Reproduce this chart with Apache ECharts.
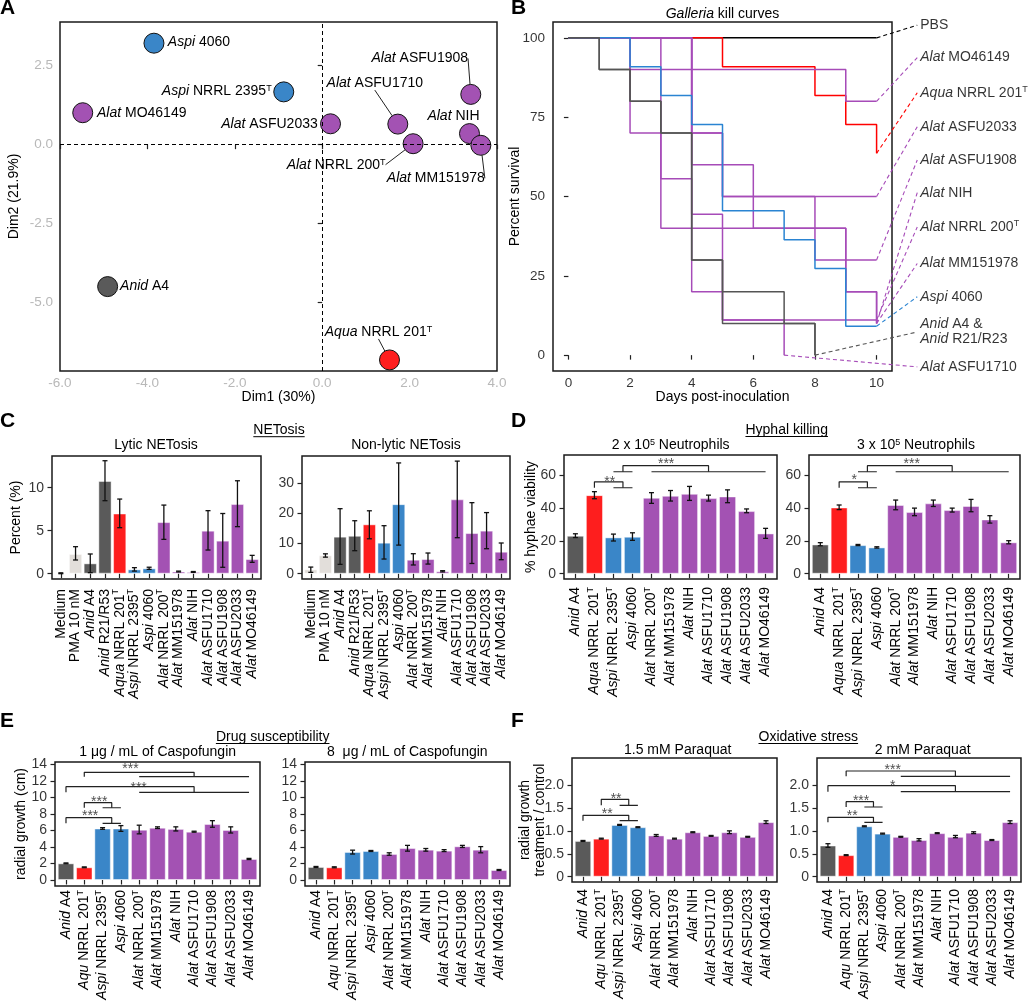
<!DOCTYPE html>
<html><head><meta charset="utf-8">
<script src="https://cdn.jsdelivr.net/npm/echarts@6/dist/echarts.min.js"></script>
<style>html,body{margin:0;padding:0;background:#fff}#c{width:1028px;height:1003px}</style>
</head><body><div id="c"></div>
<script>
const FONT = "'Liberation Sans', Arial, sans-serif";

// ===== Panel A: PCA =====
const pcaNames = ['Aspi 4060','Aspi NRRL 2395T','Alat MO46149','Alat ASFU2033','Alat ASFU1710','Alat ASFU1908','Alat NIH','Alat NRRL 200T','Alat MM151978','Anid A4','Aqua NRRL 201T'];
const pcaDim1 = [-3.85,-0.88,-5.48,0.19,1.73,3.40,3.37,2.08,3.63,-4.91,1.54];
const pcaDim2 = [3.21,1.67,1.01,0.66,0.65,1.59,0.35,0.03,-0.02,-4.49,-6.81];
const pcaXTicks = [-6,-4,-2,0,2,4];
const pcaYTicks = [-5,-2.5,0,2.5];

// ===== Panel B: Galleria kill curves =====
const killDays = [0,1,2,3,4,5,6,7,8,9,10];
const survPBS = [100,100,100,100,100,100,100,100,100,100,100];
const survAqua = [100,100,100,100,100,90.9,90.9,90.9,81.8,72.7,63.6];
const survMO46149 = [100,100,90,90,90,90,90,90,90,80,80];
const survASFU2033 = [100,100,100,100,70,50,50,50,50,50,50];
const survASFU1908 = [100,100,100,100,70,50,50,50,30,30,30];
const survNIH = [100,100,70,40,40,40,40,40,40,20,10];
const survNRRL200 = [100,100,100,100,20,11.1,11.1,11.1,11.1,11.1,11.1];
const survMM151978 = [100,100,100,100,60,60,40,40,40,20,10];
const survASFU1710 = [100,100,100,55.6,44.4,11.1,11.1,0];
const survAspi4060 = [100,100,90.9,81.8,72.7,45.5,45.5,36.4,27.3,9.1,9.1];
const survAnidR21 = [100,90,80,70,30,10,10,10,0];
const survAnidA4 = [100,90,80,70,30,20,20,10,0];
const killXTicks = [0,2,4,6,8,10];
const killYTicks = [0,25,50,75,100];

// ===== Panel C: NETosis =====
const netCats = ['Medium','PMA 10 nM','Anid A4','Anid R21/R53','Aqua NRRL 201T','Aspi NRRL 2395T','Aspi 4060','Alat NRRL 200T','Alat MM151978','Alat NIH','Alat ASFU1710','Alat ASFU1908','Alat ASFU2033','Alat MO46149'];
const lyticMean = [0.05,2.29,1.2,10.78,7.0,0.5,0.62,6.0,0.25,0.2,5.0,3.84,8.1,1.7];
const lyticLo   = [0.0,1.59,0.12,8.49,5.35,0.3,0.5,3.99,0.2,0.15,2.75,0.74,5.47,1.32];
const lyticHi   = [0.1,3.14,2.29,13.14,8.68,0.7,0.75,7.98,0.3,0.25,7.33,7.0,10.81,2.13];
const nonlyticMean = [1.44,6.1,12.3,12.6,16.4,10.3,23.1,4.65,4.87,0.8,24.7,13.5,14.3,7.3];
const nonlyticLo   = [0.44,5.5,3.1,7.64,11.6,4.87,9.5,2.9,3.2,0.6,11.96,3.4,8.3,4.65];
const nonlyticHi   = [2.2,6.6,21.6,17.6,20.9,15.95,36.8,6.64,6.87,1.0,37.4,23.6,20.3,10.2];
const lyticTicks = [0,5,10];
const nonlyticTicks = [0,10,20,30];

// ===== Panel D: Hyphal killing =====
const strainCats = ['Anid A4','Aqua NRRL 201T','Aspi NRRL 2395T','Aspi 4060','Alat NRRL 200T','Alat MM151978','Alat NIH','Alat ASFU1710','Alat ASFU1908','Alat ASFU2033','Alat MO46149'];
const kill2Mean = [23.1,47.8,22.1,22.5,46.2,47.4,48.6,46.0,47.0,38.1,24.5];
const kill2Lo   = [22.0,45.6,19.9,20.3,42.8,44.2,44.6,44.2,43.2,37.1,21.5];
const kill2Hi   = [24.3,49.9,24.1,24.9,49.3,50.6,53.1,47.8,51.0,39.4,27.6];
const kill3Mean = [17.8,40.3,17.4,16.0,41.8,37.5,42.8,38.7,41.2,33.0,19.1];
const kill3Lo   = [17.0,39.0,17.1,15.6,38.9,35.3,40.9,37.5,37.7,30.8,18.2];
const kill3Hi   = [18.9,41.8,17.8,16.4,44.8,39.9,44.8,39.9,45.2,35.3,20.1];
const killTicks = [0,20,40,60];

// ===== Panel E: Drug susceptibility =====
const strainCatsAqu = ['Anid A4','Aqu NRRL 201T','Aspi NRRL 2395T','Aspi 4060','Alat NRRL 200T','Alat MM151978','Alat NIH','Alat ASFU1710','Alat ASFU1908','Alat ASFU2033','Alat MO46149'];
const caspo1Mean = [2.02,1.54,6.25,6.25,6.1,6.35,6.2,5.86,6.8,6.07,2.55];
const caspo1Lo   = [1.97,1.49,6.15,5.9,5.6,6.25,5.95,5.8,6.4,5.7,2.48];
const caspo1Hi   = [2.07,1.59,6.35,6.6,6.65,6.45,6.45,5.92,7.2,6.45,2.62];
const caspo8Mean = [1.58,1.54,3.4,3.52,3.16,3.88,3.68,3.56,4.09,3.68,1.21];
const caspo8Lo   = [1.52,1.48,3.15,3.46,3.0,3.5,3.5,3.45,3.95,3.3,1.15];
const caspo8Hi   = [1.64,1.6,3.62,3.58,3.3,4.2,3.82,3.68,4.2,4.05,1.27];
const caspoTicks = [0,2,4,6,8,10,12,14];

// ===== Panel F: Oxidative stress =====
const para15Mean = [0.78,0.83,1.13,1.08,0.9,0.83,0.97,0.89,0.97,0.87,1.19];
const para15Lo   = [0.77,0.82,1.12,1.07,0.88,0.82,0.96,0.88,0.94,0.86,1.16];
const para15Hi   = [0.79,0.84,1.14,1.09,0.92,0.84,0.98,0.9,1.0,0.88,1.22];
const para2Mean = [0.68,0.47,1.1,0.94,0.87,0.8,0.95,0.87,0.96,0.8,1.19];
const para2Lo   = [0.64,0.46,1.09,0.93,0.86,0.78,0.94,0.85,0.94,0.79,1.16];
const para2Hi   = [0.72,0.48,1.11,0.95,0.88,0.83,0.96,0.9,0.98,0.81,1.22];
const paraTicks = [0,0.5,1,1.5,2];

// ===== Significance annotations (category units / axis units) =====
const kill2Sig = [
  {x1:2, x2:3.5, top:55.9, low:52.3, subs:[[3,4]], text:'**', tx:2.8, ty:57.6},
  {x1:3.5, x2:8, top:65.7, low:62.0, subs:[[3,4],[5,11]], text:'***', tx:5.77, ty:68.6}
];
const kill3Sig = [
  {x1:2, x2:3.5, top:55.9, low:52.3, subs:[[3,4]], text:'*', tx:2.8, ty:58.5},
  {x1:3.5, x2:8, top:65.7, low:62.0, subs:[[3,4],[5,11]], text:'***', tx:5.85, ty:68.6}
];
const caspo1Sig = [
  {x1:2, x2:8, top:13.07, low:12.54, subs:[[5,11]], text:'***', tx:4.52, ty:13.83},
  {x1:1, x2:8, top:11.32, low:10.64, subs:[[5,11]], text:'***', tx:4.97, ty:11.55},
  {x1:2, x2:3.5, top:9.38, low:8.77, subs:[[3,4]], text:'***', tx:2.82, ty:9.81},
  {x1:1, x2:3.5, top:7.56, low:6.88, subs:[[3,4]], text:'***', tx:2.32, ty:8.1}
];
const para15Sig = [
  {x1:2, x2:3.5, top:1.689, low:1.558, subs:[[3,4]], text:'**', tx:2.81, ty:1.765},
  {x1:1, x2:3.5, top:1.34, low:1.222, subs:[[3,4]], text:'**', tx:2.32, ty:1.427}
];
const para2Sig = [
  {x1:2, x2:8, top:2.306, low:2.19, subs:[[5,11]], text:'***', tx:4.56, ty:2.398},
  {x1:1, x2:8, top:1.986, low:1.855, subs:[[5,11]], text:'*', tx:4.56, ty:2.05},
  {x1:2, x2:3.5, top:1.636, low:1.521, subs:[[3,4]], text:'***', tx:2.82, ty:1.724},
  {x1:1, x2:3.5, top:1.296, low:1.187, subs:[[3,4]], text:'**', tx:2.33, ty:1.394}
];

// ===== Layout (label placement) =====
const pcaLabelShift = [[45,-1],[-67,-1],[59,0],[-61,0],[-23,-41],[-51,-36],[-16,-17],[-77,21],[-45,33],[37,0],[-11,-28]];
const pcaLeader = [false,false,false,false,true,true,false,true,true,false,true];
const killLabelX = 11.32;
const killLabelY = [104,93.8,82.7,72,61.5,51.2,40.4,28.9,18.4,7.3,-3.7];

// ===== Styling =====
const GRAY = '#5a5a5a', RED = '#fe1e1e', BLUE = '#3a86c8', PURPLE = '#a352b3', LIGHT = '#e2deda';
const LRED = '#ff0000', LBLUE = '#2a84d2', LPURPLE = '#a64bb8', LGRAY = '#555555';
function colorFor(n) {
  if (/^Anid/.test(n)) return GRAY;
  if (/^Aqu/.test(n)) return RED;
  if (/^Aspi/.test(n)) return BLUE;
  if (/^Alat/.test(n)) return PURPLE;
  return LIGHT;
}
function richStyles(fs, col) {
  col = col || '#000';
  return {
    i: {fontStyle:'italic', fontSize:fs, fontFamily:FONT, color:col},
    n: {fontSize:fs, fontFamily:FONT, color:col},
    sup: {fontSize:Math.round(fs*0.62), fontFamily:FONT, color:col, verticalAlign:'top', lineHeight:fs*0.75}
  };
}
function fmtName(s) {
  return s.split('\n').map(line => {
    let pre = '', rest = line, sup = '';
    const m = line.match(/^(Anid|Aqua|Aqu|Aspi|Alat)( .*)$/);
    if (m) { pre = '{i|' + m[1] + '}'; rest = m[2]; }
    const t = rest.match(/^(.*\d)T$/);
    if (t) { rest = t[1]; sup = '{sup|T}'; }
    return pre + '{n|' + rest + '}' + sup;
  }).join('\n');
}
function namePieces(s) {
  const out = [];
  let rest = s, sup = false;
  const m = s.match(/^(Anid|Aqua|Aqu|Aspi|Alat)( .*)$/);
  if (m) { out.push({t:m[1], it:true}); rest = m[2]; }
  const t = rest.match(/^(.*\d)T$/);
  if (t) { rest = t[1]; sup = true; }
  out.push({t:rest});
  if (sup) out.push({t:'T', sup:true});
  return out;
}

const grids = [
  {left:60, top:22, width:437, height:349},
  {left:553, top:22, width:339, height:349},
  {left:52, top:456, width:209, height:123},
  {left:302, top:456, width:208, height:123},
  {left:564, top:455, width:213, height:124},
  {left:809, top:455, width:211, height:124},
  {left:55, top:762, width:205, height:124},
  {left:305, top:762, width:205, height:124},
  {left:572, top:758, width:205, height:124},
  {left:817, top:758, width:204, height:124}
];
const gridOpts = grids.map(g => Object.assign({show:true, borderColor:'#1a1a1a', borderWidth:1.5, backgroundColor:'#fff', containLabel:false, outerBoundsMode:'none'}, g));

const xAxes = [], yAxes = [], series = [];
const tickStyle = {show:true, inside:false, length:4.5, lineStyle:{color:'#222', width:1.2}};
const nameStyle = {fontSize:14, fontFamily:FONT, color:'#000', lineHeight:15};

function tickLabels(xi, yi, pts, lab, fs, col) {
  series.push({type:'scatter', xAxisIndex:xi, yAxisIndex:yi, symbolSize:0, clip:false, silent:true, z:6,
    data: pts, emphasis:{disabled:true},
    label:Object.assign({show:true, color:col || '#000', lineHeight:15, rich:richStyles(fs || 14, col),
      formatter:p=>'{n|' + p.name + '}'}, lab)});
}

// ---- Panel A ----
xAxes.push({gridIndex:0, type:'value', min:-6, max:4, splitLine:{show:false}, axisLine:{show:false},
  axisTick:Object.assign({}, tickStyle, {customValues:pcaXTicks}), axisLabel:{show:false},
  name:'Dim1 (30%)', nameLocation:'middle', nameGap:19, nameTextStyle:nameStyle});
yAxes.push({gridIndex:0, type:'value', min:-7.16, max:3.88, splitLine:{show:false}, axisLine:{show:false},
  axisTick:Object.assign({}, tickStyle, {customValues:pcaYTicks}), axisLabel:{show:false},
  name:'Dim2 (21.9%)', nameLocation:'middle', nameGap:38, nameTextStyle:nameStyle});
tickLabels(0, 0, pcaXTicks.map(v=>({value:[v,-7.16], name:v.toFixed(1)})), {position:'bottom', distance:5}, 13.5, '#a6a6a6');
tickLabels(0, 0, pcaYTicks.map(v=>({value:[-6,v], name:v.toFixed(1)})), {position:'left', distance:7}, 13.5, '#a6a6a6');
series.push({
  type:'scatter', xAxisIndex:0, yAxisIndex:0, symbolSize:20, z:4,
  data: pcaNames.map((n,i)=>({value:[pcaDim1[i], pcaDim2[i]], name:n, itemStyle:{color:colorFor(n)}, labelLine:{show:pcaLeader[i]}})),
  itemStyle:{borderColor:'#111', borderWidth:1, opacity:1},
  label:{show:true, position:'inside', color:'#000', formatter:p=>fmtName(p.name), rich:richStyles(14)},
  labelLine:{show:false, lineStyle:{color:'#222', width:1}},
  labelLayout: p => ({dx:pcaLabelShift[p.dataIndex][0], dy:pcaLabelShift[p.dataIndex][1]}),
  emphasis:{disabled:true},
  markLine:{silent:true, symbol:'none', animation:false, label:{show:false},
    lineStyle:{type:[4,3], color:'#000', width:1}, data:[{xAxis:0},{yAxis:0}]}
});

// ---- Panel B ----
xAxes.push({gridIndex:1, type:'value', min:-0.5, max:10.5, splitLine:{show:false}, axisLine:{show:false},
  axisTick:Object.assign({}, tickStyle, {customValues:killXTicks}), axisLabel:{show:false},
  name:'Days post-inoculation', nameLocation:'middle', nameGap:19, nameTextStyle:nameStyle});
yAxes.push({gridIndex:1, type:'value', min:-5, max:105, splitLine:{show:false}, axisLine:{show:false},
  axisTick:Object.assign({}, tickStyle, {customValues:killYTicks}), axisLabel:{show:false},
  name:'Percent survival', nameLocation:'middle', nameGap:30, nameTextStyle:nameStyle});
tickLabels(1, 1, killXTicks.map(v=>({value:[v,-5], name:String(v)})), {position:'bottom', distance:5}, 13.5);
tickLabels(1, 1, killYTicks.map(v=>({value:[-0.5,v], name:String(v)})), {position:'left', distance:8}, 13.5);
const killCurves = [
  ['PBS', survPBS, '#000000'],
  ['Aqua NRRL 201T', survAqua, LRED],
  ['Alat MO46149', survMO46149, LPURPLE],
  ['Alat ASFU2033', survASFU2033, LPURPLE],
  ['Alat ASFU1908', survASFU1908, LPURPLE],
  ['Alat NIH', survNIH, LPURPLE],
  ['Alat NRRL 200T', survNRRL200, LPURPLE],
  ['Alat MM151978', survMM151978, LPURPLE],
  ['Alat ASFU1710', survASFU1710, LPURPLE],
  ['Aspi 4060', survAspi4060, LBLUE],
  ['Anid R21/R23', survAnidR21, LGRAY],
  ['Anid A4', survAnidA4, LGRAY]
];
killCurves.forEach(([nm, s, col]) => series.push({
  type:'line', name:nm, xAxisIndex:1, yAxisIndex:1, step:'end', symbol:'none', silent:true,
  data: s.map((v,i)=>[killDays[i], v]), lineStyle:{color:col, width:1.5}
}));
const killLegend = [
  ['PBS', survPBS, '#000000'],
  ['Alat MO46149', survMO46149, LPURPLE],
  ['Aqua NRRL 201T', survAqua, LRED],
  ['Alat ASFU2033', survASFU2033, LPURPLE],
  ['Alat ASFU1908', survASFU1908, LPURPLE],
  ['Alat NIH', survNIH, LPURPLE],
  ['Alat NRRL 200T', survNRRL200, LPURPLE],
  ['Alat MM151978', survMM151978, LPURPLE],
  ['Aspi 4060', survAspi4060, LBLUE],
  ['Anid A4 &\nAnid R21/R23', survAnidA4, LGRAY],
  ['Alat ASFU1710', survASFU1710, LPURPLE]
];
killLegend.forEach(([nm, s, col], k) => {
  const last = s.length - 1;
  series.push({type:'custom', xAxisIndex:1, yAxisIndex:1, silent:true, clip:false, z:3,
    data:[[killDays[last], s[last], killLabelX, killLabelY[k]]], encode:{x:[0,2], y:[1,3]},
    renderItem:(p, api) => {
      const a = api.coord([api.value(0), api.value(1)]), b = api.coord([api.value(2), api.value(3)]);
      return {type:'line', shape:{x1:a[0], y1:a[1], x2:b[0], y2:b[1]}, style:{stroke:col, lineWidth:1.1, lineDash:[4,3]}};
    }});
});
series.push({type:'scatter', xAxisIndex:1, yAxisIndex:1, symbolSize:0, clip:false, silent:true,
  data: killLegend.map(([nm], k) => ({value:[killLabelX, killLabelY[k]], name:nm})),
  label:{show:true, position:'right', distance:3, color:'#000', formatter:p=>fmtName(p.name), rich:richStyles(14), lineHeight:15}
});

// ---- Bar panels ----
function errRender(params, api) {
  const x = api.value(0);
  const a = api.coord([x, api.value(1)]), b = api.coord([x, api.value(2)]);
  const hw = 2.5, st = {stroke:'#111', lineWidth:1.3};
  return {type:'group', children:[
    {type:'line', shape:{x1:a[0], y1:a[1], x2:b[0], y2:b[1]}, style:st},
    {type:'line', shape:{x1:a[0]-hw, y1:a[1], x2:a[0]+hw, y2:a[1]}, style:st},
    {type:'line', shape:{x1:b[0]-hw, y1:b[1], x2:b[0]+hw, y2:b[1]}, style:st}
  ]};
}
const catLabelJobs = [];
function barPanel(gi, cats, mean, lo, hi, yr, yticks, yfmt, yname, yGap, lblMargin, sig) {
  const n = cats.length, idx = cats.map((_, i) => i + 1), g = grids[gi];
  const xi = xAxes.length, yi = yAxes.length;
  xAxes.push({gridIndex:gi, type:'value', min:0.4, max:n+0.6, splitLine:{show:false}, axisLine:{show:false},
    axisTick:Object.assign({}, tickStyle, {customValues:idx}), axisLabel:{show:false}});
  yAxes.push({gridIndex:gi, type:'value', min:yr[0], max:yr[1], splitLine:{show:false}, axisLine:{show:false},
    axisTick:Object.assign({}, tickStyle, {customValues:yticks}), axisLabel:{show:false},
    name:yname, nameLocation:'middle', nameGap:yGap, nameTextStyle:nameStyle});
  catLabelJobs.push({xi, yi, cats, y0:yr[0], margin:lblMargin});
  tickLabels(xi, yi, yticks.map(v=>({value:[0.4, v], name:yfmt(v)})), {position:'left', distance:8});
  series.push({type:'bar', xAxisIndex:xi, yAxisIndex:yi, barWidth:0.9*g.width/(n+0.2), silent:true,
    data: cats.map((c,i)=>({value:[i+1, mean[i]], itemStyle:{color:colorFor(c)}})),
    itemStyle:{borderColor:'rgba(255,255,255,0.45)', borderWidth:1}});
  series.push({type:'custom', xAxisIndex:xi, yAxisIndex:yi, renderItem:errRender, silent:true, z:5,
    data: cats.map((c,i)=>[i+1, lo[i], hi[i]]), encode:{x:0, y:[1,2]}});
  if (sig) {
    const seg = pts => series.push({type:'line', xAxisIndex:xi, yAxisIndex:yi, data:pts, symbol:'none', silent:true, z:4,
      lineStyle:{color:'#222', width:1.2}});
    sig.forEach(s => {
      seg([[s.x1,s.low],[s.x1,s.top],[s.x2,s.top],[s.x2,s.low]]);
      s.subs.forEach(([a,b]) => seg([[a,s.low],[b,s.low]]));
    });
    tickLabels(xi, yi, sig.map(s=>({value:[s.tx, s.ty], name:s.text})),
      {position:'inside', offset:[0,3]}, 14, '#222');
  }
}
const intFmt = v => String(v);
barPanel(2, netCats, lyticMean, lyticLo, lyticHi, [-0.62,13.69], lyticTicks, intFmt, 'Percent (%)', 28, 10);
barPanel(3, netCats, nonlyticMean, nonlyticLo, nonlyticHi, [-1.76,39.1], nonlyticTicks, intFmt, '', 28, 10);
barPanel(4, strainCats, kill2Mean, kill2Lo, kill2Hi, [-3.2,72.2], killTicks, intFmt, '% hyphae viability', 25, 8, kill2Sig);
barPanel(5, strainCats, kill3Mean, kill3Lo, kill3Hi, [-3.2,72.2], killTicks, intFmt, '', 25, 8, kill3Sig);
barPanel(6, strainCatsAqu, caspo1Mean, caspo1Lo, caspo1Hi, [-0.73,14.32], caspoTicks, intFmt, 'radial growth (cm)', 26, 4, caspo1Sig);
barPanel(7, strainCatsAqu, caspo8Mean, caspo8Lo, caspo8Hi, [-0.73,14.32], caspoTicks, intFmt, '', 26, 4);
const paraFmt = v => v === 0 ? '0' : v.toFixed(1);
barPanel(8, strainCatsAqu, para15Mean, para15Lo, para15Hi, [-0.116,2.59], paraTicks, paraFmt, 'radial growth\ntreatment / control', 24, 7, para15Sig);
barPanel(9, strainCatsAqu, para2Mean, para2Lo, para2Hi, [-0.116,2.59], paraTicks, paraFmt, '', 24, 7, para2Sig);

// ---- Titles, panel letters, underlines ----
const mctx = document.createElement('canvas').getContext('2d');
function tw(t, fs, it) { mctx.font = (it ? 'italic ' : '') + fs + 'px ' + FONT; return mctx.measureText(t).width; }
const gRich = {
  i: {fontStyle:'italic', fontSize:14, fontFamily:FONT, fill:'#000'},
  sup: {fontSize:9, fontFamily:FONT, fill:'#000', verticalAlign:'top', lineHeight:10}
};
function gText(x, y, text, extra) {
  return {type:'text', x:x, y:y, silent:true, z:100,
    style:Object.assign({text:text, fontSize:14, fontFamily:FONT, fill:'#000', align:'center', verticalAlign:'middle', rich:gRich}, extra || {})};
}
function uLine(cx, y, t) {
  const w = tw(t, 14);
  return {type:'line', silent:true, z:100, shape:{x1:cx-w/2, y1:y, x2:cx+w/2, y2:y}, style:{stroke:'#000', lineWidth:1}};
}
const letterStyle = {fontSize:21, fontWeight:'bold', align:'left'};
const graphics = [
  gText(0, 8, 'A', letterStyle), gText(511, 8, 'B', letterStyle),
  gText(0, 421, 'C', letterStyle), gText(511, 421, 'D', letterStyle),
  gText(0, 721.5, 'E', letterStyle), gText(511, 721.5, 'F', letterStyle),
  gText(722.5, 14.5, '{i|Galleria} kill curves'),
  gText(279, 429.7, 'NETosis'), uLine(279, 436.7, 'NETosis'),
  gText(156, 445.5, 'Lytic NETosis'), gText(406, 445.5, 'Non-lytic NETosis'),
  gText(786.7, 429.7, 'Hyphal killing'), uLine(786.7, 436.5, 'Hyphal killing'),
  gText(670.7, 445.5, '2 x 10{sup|5} Neutrophils'), gText(916, 445.5, '3 x 10{sup|5} Neutrophils'),
  gText(272.7, 736.7, 'Drug susceptibility'), uLine(272.7, 743.5, 'Drug susceptibility'),
  gText(157.7, 752, '1 μg / mL of Caspofungin'), gText(407.3, 752, '8  μg / mL of Caspofungin'),
  gText(808.3, 736.7, 'Oxidative stress'), uLine(808.3, 743.5, 'Oxidative stress'),
  gText(677.7, 750, '1.5 mM Paraquat'), gText(922.7, 750, '2 mM Paraquat')
];

const chart = echarts.init(document.getElementById('c'), null, {renderer:'canvas'});
chart.setOption({
  animation:false,
  backgroundColor:'#ffffff',
  textStyle:{fontFamily:FONT},
  grid:gridOpts, xAxis:xAxes, yAxis:yAxes, series:series, graphic:graphics
});

// category tick labels: rotated plain-text pieces anchored at pixels given by the chart's own scales
const catGraphics = [];
catLabelJobs.forEach(job => {
  job.cats.forEach((c, i) => {
    const p = chart.convertToPixel({xAxisIndex:job.xi, yAxisIndex:job.yi}, [i + 1, job.y0]);
    const y0 = p[1] + job.margin;
    const pcs = namePieces(c);
    const ws = pcs.map(q => tw(q.t, q.sup ? 9 : 14, q.it));
    const W = ws.reduce((a, b) => a + b, 0);
    let o = 0;
    pcs.forEach((q, k) => {
      catGraphics.push({type:'text', x: q.sup ? p[0] - 4 : p[0], y: y0 + W - o, rotation:Math.PI/2, silent:true, z:100,
        style:{text:q.t, fontSize:q.sup ? 9 : 14, fontStyle:q.it ? 'italic' : 'normal', fontFamily:FONT, fill:'#000',
          align:'left', verticalAlign:'middle'}});
      o += ws[k];
    });
  });
});
chart.setOption({graphic: graphics.concat(catGraphics)});
</script></body></html>
